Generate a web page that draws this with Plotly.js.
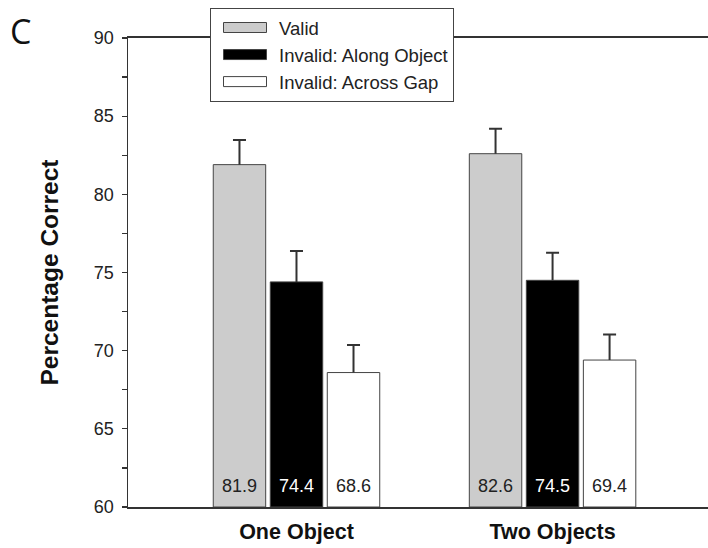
<!DOCTYPE html>
<html>
<head>
<meta charset="utf-8">
<script src="https://cdn.plot.ly/plotly-3.0.1.min.js"></script>
<style>html,body{margin:0;padding:0;background:#fff;}#chart{width:708px;height:548px;}</style>
</head>
<body>
<div id="chart"></div>
<script>
var categories = ["One Object", "Two Objects"];
var seriesNames = ["Valid", "Invalid: Along Object", "Invalid: Across Gap"];
var validVals = [81.9, 82.6];
var alongVals = [74.4, 74.5];
var acrossVals = [68.6, 69.4];
var validErr = [1.57, 1.6];
var alongErr = [1.97, 1.76];
var acrossErr = [1.76, 1.64];
var yTickVals = [60, 65, 70, 75, 80, 85, 90];
var axisBase = 60;

var fills = ["#cccccc", "#000000", "#ffffff"];
var textColors = ["#222222", "#ffffff", "#222222"];
var vals = [validVals, alongVals, acrossVals];
var errs = [validErr, alongErr, acrossErr];
var FONT = "Arial, Liberation Sans, sans-serif";

var traces = vals.map(function(v, i) {
  return {
    type: "bar",
    name: seriesNames[i],
    x: categories,
    base: axisBase,
    y: v.map(function(d){ return d - axisBase; }),
    text: v.map(function(d){ return d.toFixed(1); }),
    textposition: "inside",
    insidetextanchor: "start",
    constraintext: "none",
    textangle: 0,
    textfont: {family: FONT, size: 18, color: textColors[i]},
    marker: {color: fills[i], line: {color: "#444444", width: 1}},
    error_y: {type: "data", symmetric: false, array: errs[i], arrayminus: [0, 0], color: "#333333", thickness: 2, width: 6.5},
    hoverinfo: "skip"
  };
});

var layout = {
  width: 708, height: 548,
  margin: {l: 128, r: 0, t: 38, b: 41, pad: 0},
  paper_bgcolor: "#ffffff", plot_bgcolor: "#ffffff",
  barmode: "group",
  bargap: 0.332,
  bargroupgap: 0.08,
  showlegend: true,
  font: {family: FONT, color: "#222222"},
  legend: {
    x: 0.1414, y: 1.064, xanchor: "left", yanchor: "top",
    bgcolor: "#ffffff", bordercolor: "#444444", borderwidth: 1,
    font: {size: 18.5, family: FONT, color: "#222222"},
    traceorder: "normal",
    itemwidth: 58
  },
  xaxis: {
    type: "category",
    range: [-0.658, 1.607],
    showline: true, linecolor: "#333333", linewidth: 2, mirror: true,
    ticks: "", showgrid: false, zeroline: false,
    tickfont: {size: 21.5, family: FONT, weight: "bold", color: "#111111"},
    ticklabelstandoff: 4
  },
  yaxis: {
    range: [60, 90],
    tickvals: yTickVals,
    ticktext: yTickVals.map(String),
    showline: true, linecolor: "#333333", linewidth: 1.5, mirror: false,
    ticks: "outside", ticklen: 5, tickwidth: 1.2, tickcolor: "#333333",
    minor: {dtick: 2.5, tick0: 60, ticks: "outside", ticklen: 5, tickwidth: 1.2, tickcolor: "#333333", showgrid: false},
    showgrid: false, zeroline: false,
    ticklabelstandoff: 4,
    tickfont: {size: 18, family: FONT, color: "#222222"},
    title: {text: "Percentage Correct", font: {size: 24.5, family: FONT, weight: "bold", color: "#111111"}, standoff: 28}
  },
  annotations: [{
    text: "C", xref: "paper", yref: "paper", x: -0.186, y: 1.068,
    xanchor: "center", yanchor: "top", showarrow: false,
    font: {size: 34, family: "Open Sans, sans-serif", color: "#111111"}
  }]
};

Plotly.newPlot("chart", traces, layout, {displayModeBar: false, staticPlot: true}).then(function(gd) {
  // error bars point only upward: drop the lower cap at the bar top
  gd.querySelectorAll("path.yerror").forEach(function(p) {
    var d = p.getAttribute("d");
    if (d) p.setAttribute("d", d.replace(/(V[-\d.]+)m.*$/, "$1"));
  });
  // wide rectangular legend swatches like the reference
  gd.querySelectorAll(".legend .legendpoints path").forEach(function(p) {
    p.setAttribute("d", "M21.5,5H-21.5V-5H21.5Z");
  });
  // value labels sit a little higher above the bar base
  gd.querySelectorAll(".bars text.bartext").forEach(function(t) {
    var tr = t.getAttribute("transform") || "";
    t.setAttribute("transform", "translate(0,-8) " + tr);
  });
});
</script>
</body>
</html>
